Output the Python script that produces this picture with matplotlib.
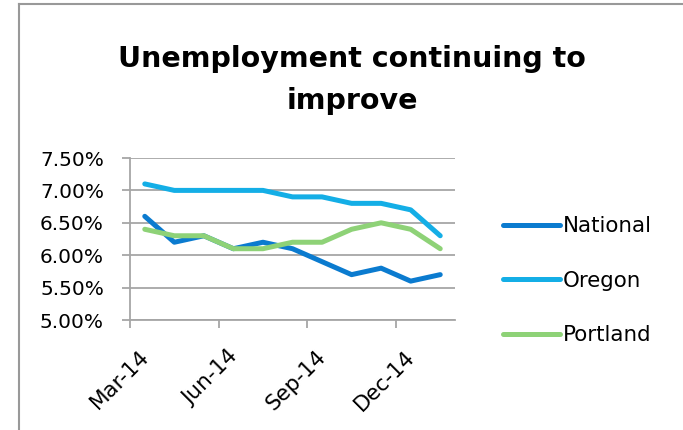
import matplotlib
matplotlib.use('Agg')
import matplotlib.pyplot as plt
from matplotlib.lines import Line2D
from matplotlib.ticker import FuncFormatter
from matplotlib.transforms import ScaledTranslation

# monthly unemployment rate (%), Mar-14 .. Jan-15
months = ['Mar-14', 'Apr-14', 'May-14', 'Jun-14', 'Jul-14', 'Aug-14',
          'Sep-14', 'Oct-14', 'Nov-14', 'Dec-14', 'Jan-15']
national = [6.6, 6.2, 6.3, 6.1, 6.2, 6.1, 5.9, 5.7, 5.8, 5.6, 5.7]
oregon   = [7.1, 7.0, 7.0, 7.0, 7.0, 6.9, 6.9, 6.8, 6.8, 6.7, 6.3]
portland = [6.4, 6.3, 6.3, 6.1, 6.1, 6.2, 6.2, 6.4, 6.5, 6.4, 6.1]
y_ticks = [5.0, 5.5, 6.0, 6.5, 7.0, 7.5]

COLORS = {'National': '#0B7BCF', 'Oregon': '#14AEE6', 'Portland': '#8ED277'}
GRID = '#A6A6A6'

W, H = 683, 430
fig = plt.figure(figsize=(W / 100, H / 100), dpi=100, facecolor='white')
ax = fig.add_axes([130 / W, 1 - 320 / H, (455 - 130) / W, (320 - 158) / H])

x = list(range(len(months)))
for name, vals in [('National', national), ('Oregon', oregon), ('Portland', portland)]:
    ax.plot(x, vals, color=COLORS[name], lw=3.6, label=name,
            solid_joinstyle='round', solid_capstyle='round')

ax.set_xlim(-0.5, len(months) - 0.5)
ax.set_ylim(5.0, 7.5)
ax.set_yticks(y_ticks)
ax.yaxis.set_major_formatter(FuncFormatter(lambda v, p: f'{v:.2f}%'))
ax.grid(axis='y', color=GRID, lw=1.3)
ax.set_axisbelow(True)

# tick marks between categories, labels every 3rd month
ax.set_xticks([-0.5, 2.5, 5.5, 8.5])
ax.set_xticklabels([])
ax.set_xticks(x[::3], minor=True)
ax.set_xticklabels(months[::3], minor=True, rotation=45, ha='right',
                   rotation_mode='anchor', fontsize=15.5)
ax.tick_params(axis='x', which='minor', length=0, pad=19)
ax.tick_params(axis='x', which='major', length=5.5, width=1.3, color=GRID)
ax.tick_params(axis='y', length=5.8, width=1.3, color=GRID, labelsize=14.5, pad=13)
shift = ScaledTranslation(-6 / 100, 0, fig.dpi_scale_trans)
for lbl in ax.get_xticklabels(minor=True):
    lbl.set_transform(lbl.get_transform() + shift)

for s in ['top', 'right']:
    ax.spines[s].set_visible(False)
for s in ['left', 'bottom']:
    ax.spines[s].set_color(GRID)
    ax.spines[s].set_linewidth(1.3)

# two-line title
fig.text(352 / W, 1 - 67 / H, 'Unemployment continuing to', ha='center',
         va='baseline', fontsize=20.5, fontweight='bold')
fig.text(352 / W, 1 - 109 / H, 'improve', ha='center',
         va='baseline', fontsize=20.5, fontweight='bold')

fig.legend(loc='upper left', bbox_to_anchor=(503 / W, 1 - 216 / H),
           frameon=False, fontsize=15.4, handlelength=2.66,
           handletextpad=0.15, labelspacing=1.62, borderpad=0, borderaxespad=0)

# chart area border (left and top edges visible)
fig.add_artist(Line2D([19 / W, 19 / W], [0, 1 - 4 / H], color='#999999', lw=1.5))
fig.add_artist(Line2D([19 / W, 1], [1 - 4 / H, 1 - 4 / H], color='#999999', lw=1.5))

fig.savefig('out.png', dpi=100, facecolor='white')
